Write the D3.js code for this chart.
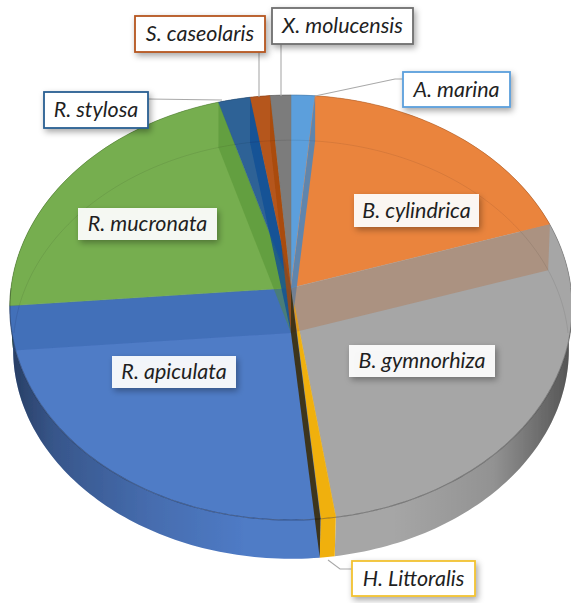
<!DOCTYPE html>
<html>
<head>
<meta charset="utf-8">
<script src="https://cdn.jsdelivr.net/npm/d3@7"></script>
<style>
  html, body { margin: 0; padding: 0; background: #fff; overflow: hidden; }
  svg { display: block; }
  text { font-family: Lato, "Open Sans", sans-serif; font-style: italic; fill: #1f1f1f; }
</style>
</head>
<body>
<div id="chart-area"></div>
<script>
// clockwise from 12 o'clock
var species = ["A. marina", "B. cylindrica", "B. gymnorhiza", "H. Littoralis", "R. apiculata",
    "R. mucronata", "R. stylosa", "S. caseolaris", "X. molucensis"]
var shares = [1.5, 18.5, 27.7, 0.8, 25.2, 21.8, 2.0, 1.25, 1.3]
var fills = ["#5b9fdc", "#ea843e", "#a6a6a6", "#f0b010", "#4f7bc6", "#76ae50", "#2f6296", "#b5561f", "#7b7b7b"]
var walls = ["#3f86c8", "#b5622c", "#777777", "#3a2a06", "#2c5aa0", "#4f8f2c", "#0f4f96", "#a84a08", "#3d3d3d"]
var wallOpacity = [0.8, 0.3, 0, 0.88, 0.35, 0.45, 0.8, 0.8, 0.7]
var borders = ["#5b9fdc", null, null, "#f2c230", null, null, "#2a5f92", "#b5561f", "#6e6e6e"]

var cw = 571
var ch = 603

var svg = d3.select("#chart-area").append("svg")
    .attr("width", cw)
    .attr("height", ch)

var defs = svg.append("defs")

var shade = defs.append("linearGradient")
    .attr("id", "side-shade")
    .attr("gradientUnits", "userSpaceOnUse")
    .attr("x1", 10).attr("x2", 572).attr("y1", 0).attr("y2", 0)
shade.selectAll("stop")
    .data([[0, 0.5], [0.08, 0.3], [0.25, 0.12], [0.42, 0], [0.68, 0], [0.86, 0.12], [1, 0.5]])
    .enter().append("stop")
    .attr("offset", d => d[0])
    .attr("stop-color", "#000")
    .attr("stop-opacity", d => d[1])

var soft = defs.append("filter").attr("id", "soft")
soft.append("feGaussianBlur").attr("stdDeviation", 0.6)

var drop = defs.append("filter")
    .attr("id", "drop")
    .attr("x", "-20%").attr("y", "-30%").attr("width", "140%").attr("height", "170%")
drop.append("feDropShadow")
    .attr("dx", 2).attr("dy", 3).attr("stdDeviation", 3)
    .attr("flood-color", "#000").attr("flood-opacity", 0.35)

// perspective: the near half of the disc looks larger than the far half
var topFace = {x: 291, y: 288, a: 280, b: 210.7, p: 0.0918}
var lowFace = {x: 291, y: 333, a: 277, b: 208, p: 0.0788}

function project(face, angle, r) {
    var X = r * Math.sin(angle)
    var Y = -r * Math.cos(angle)
    var k = 1 - face.p * Y
    return [face.x + face.a * X / k, face.y + face.b * Y / k]
}

function rim(face, a0, a1) {
    var n = Math.max(2, Math.ceil((a1 - a0) / 0.02))
    return d3.range(n + 1).map(i => project(face, a0 + (a1 - a0) * i / n, 1))
}

var line = d3.line()

var slices = d3.pie().sort(null).value(d => d)(shares)

var g = svg.append("g").attr("filter", "url(#soft)")

// outer wall
g.selectAll(".side")
    .data(slices)
    .enter().append("path")
    .attr("class", "side")
    .attr("fill", (d, i) => fills[i])
    .attr("d", d => line(rim(topFace, d.startAngle, d.endAngle)
        .concat(rim(lowFace, d.startAngle, d.endAngle).reverse())) + "Z")

g.selectAll(".side-shade")
    .data(slices)
    .enter().append("path")
    .attr("class", "side-shade")
    .attr("fill", "url(#side-shade)")
    .attr("d", d => line(rim(topFace, d.startAngle, d.endAngle)
        .concat(rim(lowFace, d.startAngle, d.endAngle).reverse())) + "Z")

// top face
g.selectAll(".wedge")
    .data(slices)
    .enter().append("path")
    .attr("class", "wedge")
    .attr("fill", (d, i) => fills[i])
    .attr("stroke", (d, i) => fills[i])
    .attr("stroke-width", 0.5)
    .attr("d", d => line([[topFace.x, topFace.y]].concat(rim(topFace, d.startAngle, d.endAngle))) + "Z")

// cut walls show through the translucent top
g.selectAll(".wall")
    .data(slices)
    .enter().append("path")
    .attr("class", "wall")
    .attr("fill", (d, i) => walls[i])
    .attr("fill-opacity", (d, i) => wallOpacity[i])
    .attr("d", d => line([
        [topFace.x, topFace.y],
        project(topFace, d.endAngle, 1),
        project(lowFace, d.endAngle, 1),
        [lowFace.x, lowFace.y]
    ]) + "Z")

// far rim of the bottom face, seen through the top
g.append("path")
    .attr("fill", "none")
    .attr("stroke", "#000")
    .attr("stroke-opacity", 0.08)
    .attr("d", line(rim(lowFace, -Math.PI / 2, Math.PI / 2)))

// near rim of the top face
g.append("path")
    .attr("fill", "none")
    .attr("stroke", "#000")
    .attr("stroke-opacity", 0.3)
    .attr("stroke-width", 1.2)
    .attr("d", line(rim(topFace, Math.PI / 2, Math.PI * 3 / 2)))

g.append("path")
    .attr("fill", "none")
    .attr("stroke", "#000")
    .attr("stroke-opacity", 0.15)
    .attr("d", line(rim(topFace, -Math.PI / 2, Math.PI / 2)))

// label boxes, same order as species
var boxes = [
    {x: 403, y: 72, w: 107, h: 35},
    {x: 354, y: 194, w: 125, h: 33},
    {x: 349, y: 345, w: 146, h: 32},
    {x: 352, y: 561, w: 123, h: 35},
    {x: 112, y: 356, w: 124, h: 32},
    {x: 78, y: 208, w: 139, h: 32},
    {x: 44, y: 92, w: 104, h: 36},
    {x: 135, y: 16, w: 130, h: 36},
    {x: 272, y: 8, w: 141, h: 36}
]

var leaders = [
    [[315, 96], [395, 79], [403, 79]],
    null,
    null,
    [[328, 560], [340, 569], [352, 569]],
    null,
    null,
    [[222, 100], [148, 99]],
    [[259, 97], [259, 52]],
    [[281, 96], [281, 44]]
]

svg.append("g").selectAll("path")
    .data(leaders.filter(d => d))
    .enter().append("path")
    .attr("fill", "none")
    .attr("stroke", "#a9a9a9")
    .attr("stroke-width", 1.1)
    .attr("d", d => line(d))

var labels = svg.append("g").selectAll("g")
    .data(species)
    .enter().append("g")
    .attr("transform", (d, i) => `translate(${boxes[i].x}, ${boxes[i].y})`)

labels.append("rect")
    .attr("width", (d, i) => boxes[i].w)
    .attr("height", (d, i) => boxes[i].h)
    .attr("fill", "#fff")
    .attr("fill-opacity", (d, i) => borders[i] ? 1 : 0.92)
    .attr("stroke", (d, i) => borders[i] || "none")
    .attr("stroke-width", 1.8)
    .attr("filter", "url(#drop)")

labels.append("text")
    .attr("x", (d, i) => boxes[i].w / 2)
    .attr("y", (d, i) => boxes[i].h / 2 + 7)
    .attr("text-anchor", "middle")
    .attr("font-size", "21.5px")
    .text(d => d)
</script>
</body>
</html>
